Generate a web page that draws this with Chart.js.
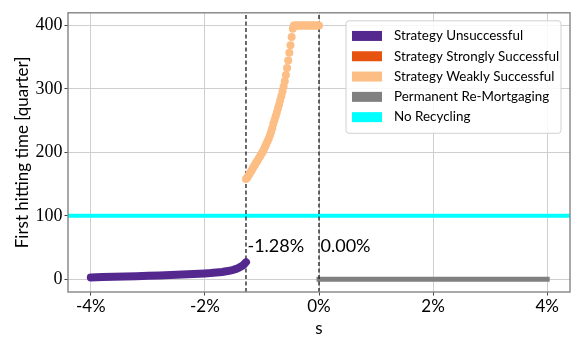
<!DOCTYPE html>
<html>
<head>
<meta charset="utf-8">
<script src="https://cdn.jsdelivr.net/npm/chart.js@4.4.1/dist/chart.umd.min.js"></script>
<style>
  html, body { margin: 0; padding: 0; background: #fff; }
  #wrap { width: 581px; height: 349px; }
</style>
</head>
<body>
<div id="wrap"><canvas id="hitting-chart" width="581" height="349"></canvas></div>
<script>
'use strict';

// Data ********** //
let unsuccessfulS = [-4.0, -3.8, -3.6, -3.4, -3.2, -3.0, -2.8, -2.6, -2.4, -2.2, -2.0, -1.9, -1.8, -1.7, -1.6, -1.5, -1.45, -1.4, -1.35, -1.32, -1.3, -1.28];
let unsuccessfulT = [3, 3.5, 4, 4.5, 5, 5.5, 6, 6.8, 7.5, 8.3, 9.2, 9.8, 10.6, 11.6, 13, 15, 16.5, 18.5, 21, 23, 25, 27];

let weakS = [-1.28, -1.26, -1.24, -1.22, -1.20, -1.18, -1.16, -1.14, -1.12, -1.10, -1.08, -1.06, -1.04, -1.02, -1.00,
  -0.98, -0.96, -0.94, -0.92, -0.90, -0.88, -0.86, -0.84, -0.82, -0.80, -0.78, -0.76, -0.74, -0.72, -0.70,
  -0.68, -0.66, -0.64, -0.62, -0.60, -0.58, -0.56, -0.54, -0.52, -0.50, -0.48, -0.46, -0.44,
  -0.42, -0.40, -0.38, -0.36, -0.34, -0.32, -0.30, -0.28, -0.26, -0.24, -0.22, -0.20, -0.18, -0.16, -0.14, -0.12, -0.10, -0.08, -0.06, -0.04, -0.02, 0.00];
let weakT = [158, 160, 163, 166, 169, 172, 175, 178, 181, 184, 187, 190, 193, 196, 199,
  202, 206, 210, 214, 218, 222, 227, 232, 238, 245, 251, 257, 263, 269, 275,
  282, 289, 296, 304, 312, 322, 333, 345, 357, 369, 382, 395, 400,
  400, 400, 400, 400, 400, 400, 400, 400, 400, 400, 400, 400, 400, 400, 400, 400, 400, 400, 400, 400, 400, 400];

let remortgageS = [0, 4];
let remortgageT = [0, 0];

let noRecyclingS = [-4.4, 4.4];
let noRecyclingT = [100, 100];

let thresholdS = [-1.28, 0.0];
let thresholdLabels = ['-1.28%', '0.00%'];
let thresholdLabelT = 52;

let xTicks = [-4, -2, 0, 2, 4];
let yTicks = [0, 100, 200, 300, 400];

let legendLabels = ['Strategy Unsuccessful', 'Strategy Strongly Successful', 'Strategy Weakly Successful', 'Permanent Re-Mortgaging', 'No Recycling'];
let legendColors = ['#54288e', '#e6520f', '#fdbe85', '#808080', '#00ffff'];

// Helpers ********** //
function toPoints(xs, ys) {
  let pts = [];
  for (let i = 0; i < xs.length; i++) {
    pts.push({ x: xs[i], y: ys[i] });
  }
  return pts;
}

const SANS = 'Lato, "Open Sans", sans-serif';
const SERIF = '"Liberation Serif", serif';

// frame round the plot, like matplotlib spines
let framePlugin = {
  id: 'frame',
  afterDraw(chart) {
    let { ctx, chartArea } = chart;
    ctx.save();
    ctx.strokeStyle = '#8c8c8c';
    ctx.lineWidth = 1.5;
    ctx.strokeRect(chartArea.left, chartArea.top, chartArea.right - chartArea.left, chartArea.bottom - chartArea.top);
    ctx.restore();
  }
};

// the two percentage notes next to the dashed lines
let notesPlugin = {
  id: 'notes',
  afterDatasetsDraw(chart) {
    let { ctx, scales } = chart;
    ctx.save();
    ctx.fillStyle = '#000';
    ctx.font = '18px ' + SANS;
    ctx.textAlign = 'left';
    ctx.textBaseline = 'middle';
    for (let i = 0; i < thresholdS.length; i++) {
      let px = scales.x.getPixelForValue(thresholdS[i]);
      let py = scales.y.getPixelForValue(thresholdLabelT);
      ctx.fillText(thresholdLabels[i], px + 1.5, py);
    }
    ctx.restore();
  }
};

// legend in the upper right, inside the axes
let legendPlugin = {
  id: 'boxLegend',
  afterDraw(chart) {
    let { ctx, chartArea } = chart;
    let boxW = 215, rowH = 20.3, pad = 5;
    let boxH = rowH * legendLabels.length + 2 * pad + 1;
    let x0 = chartArea.right - 9 - boxW;
    let y0 = chartArea.top + 8;
    ctx.save();
    ctx.beginPath();
    ctx.roundRect(x0, y0, boxW, boxH, 3);
    ctx.fillStyle = 'rgba(255,255,255,0.85)';
    ctx.fill();
    ctx.strokeStyle = '#d0d0d0';
    ctx.lineWidth = 1;
    ctx.stroke();
    ctx.font = '13.4px ' + SANS;
    ctx.textBaseline = 'middle';
    ctx.textAlign = 'left';
    for (let i = 0; i < legendLabels.length; i++) {
      let cy = y0 + pad + rowH * i + rowH / 2;
      ctx.fillStyle = legendColors[i];
      ctx.fillRect(x0 + 6, cy - 5, 30, 10);
      ctx.fillStyle = '#000';
      ctx.fillText(legendLabels[i], x0 + 48, cy);
    }
    ctx.restore();
  }
};

let datasets = [
  {
    label: legendLabels[0],
    data: toPoints(unsuccessfulS, unsuccessfulT),
    showLine: true,
    borderColor: legendColors[0],
    backgroundColor: legendColors[0],
    borderWidth: 8,
    borderCapStyle: 'round',
    borderJoinStyle: 'round',
    pointRadius: 0
  },
  {
    label: legendLabels[2],
    data: toPoints(weakS, weakT),
    showLine: false,
    backgroundColor: legendColors[2],
    borderWidth: 0,
    pointRadius: 4
  },
  {
    label: 'threshold-a',
    data: [{ x: thresholdS[0], y: -20 }, { x: thresholdS[0], y: 420 }],
    showLine: true,
    borderColor: '#1a1a1a',
    borderWidth: 1.3,
    borderDash: [4, 2.5],
    pointRadius: 0
  },
  {
    label: 'threshold-b',
    data: [{ x: thresholdS[1], y: -20 }, { x: thresholdS[1], y: 420 }],
    showLine: true,
    borderColor: '#1a1a1a',
    borderWidth: 1.3,
    borderDash: [4, 2.5],
    pointRadius: 0
  },
  {
    label: legendLabels[3],
    data: toPoints(remortgageS, remortgageT),
    showLine: true,
    borderColor: legendColors[3],
    borderWidth: 5,
    borderCapStyle: 'square',
    pointRadius: 0
  },
  {
    label: legendLabels[4],
    data: toPoints(noRecyclingS, noRecyclingT),
    showLine: true,
    borderColor: legendColors[4],
    borderWidth: 4,
    pointRadius: 0
  }
];

let ctx = document.getElementById('hitting-chart');

new Chart(ctx, {
  type: 'scatter',
  data: { datasets: datasets },
  options: {
    responsive: false,
    animation: false,
    layout: { padding: { top: 12, right: 11, left: 0, bottom: 0 } },
    plugins: {
      legend: { display: false },
      tooltip: { enabled: false }
    },
    scales: {
      x: {
        type: 'linear',
        min: -4.4,
        max: 4.4,
        afterFit(scale) { scale.height = 57; },
        afterBuildTicks(scale) { scale.ticks = xTicks.map(v => ({ value: v })); },
        ticks: {
          font: { family: SANS, size: 17 },
          color: '#000',
          padding: 1,
          maxRotation: 0,
          callback: v => v + '%'
        },
        grid: { color: '#cfcfcf', lineWidth: 1, tickLength: 3.5, tickColor: '#444' },
        border: { display: false },
        title: {
          display: true,
          text: 's',
          font: { family: SANS, size: 17 },
          color: '#000',
          padding: { top: 0, bottom: 10 }
        }
      },
      y: {
        type: 'linear',
        min: -20,
        max: 420,
        afterFit(scale) { scale.width = 68; },
        afterBuildTicks(scale) { scale.ticks = yTicks.map(v => ({ value: v })); },
        ticks: {
          font: { family: SERIF, size: 18 },
          color: '#000',
          padding: 2
        },
        grid: { color: '#cfcfcf', lineWidth: 1, tickLength: 3.5, tickColor: '#444' },
        border: { display: false },
        title: {
          display: true,
          text: 'First hitting time [quarter]',
          font: { family: SANS, size: 17 },
          color: '#000',
          padding: { top: 12, bottom: 0 }
        }
      }
    }
  },
  plugins: [framePlugin, notesPlugin, legendPlugin]
});
</script>
</body>
</html>
